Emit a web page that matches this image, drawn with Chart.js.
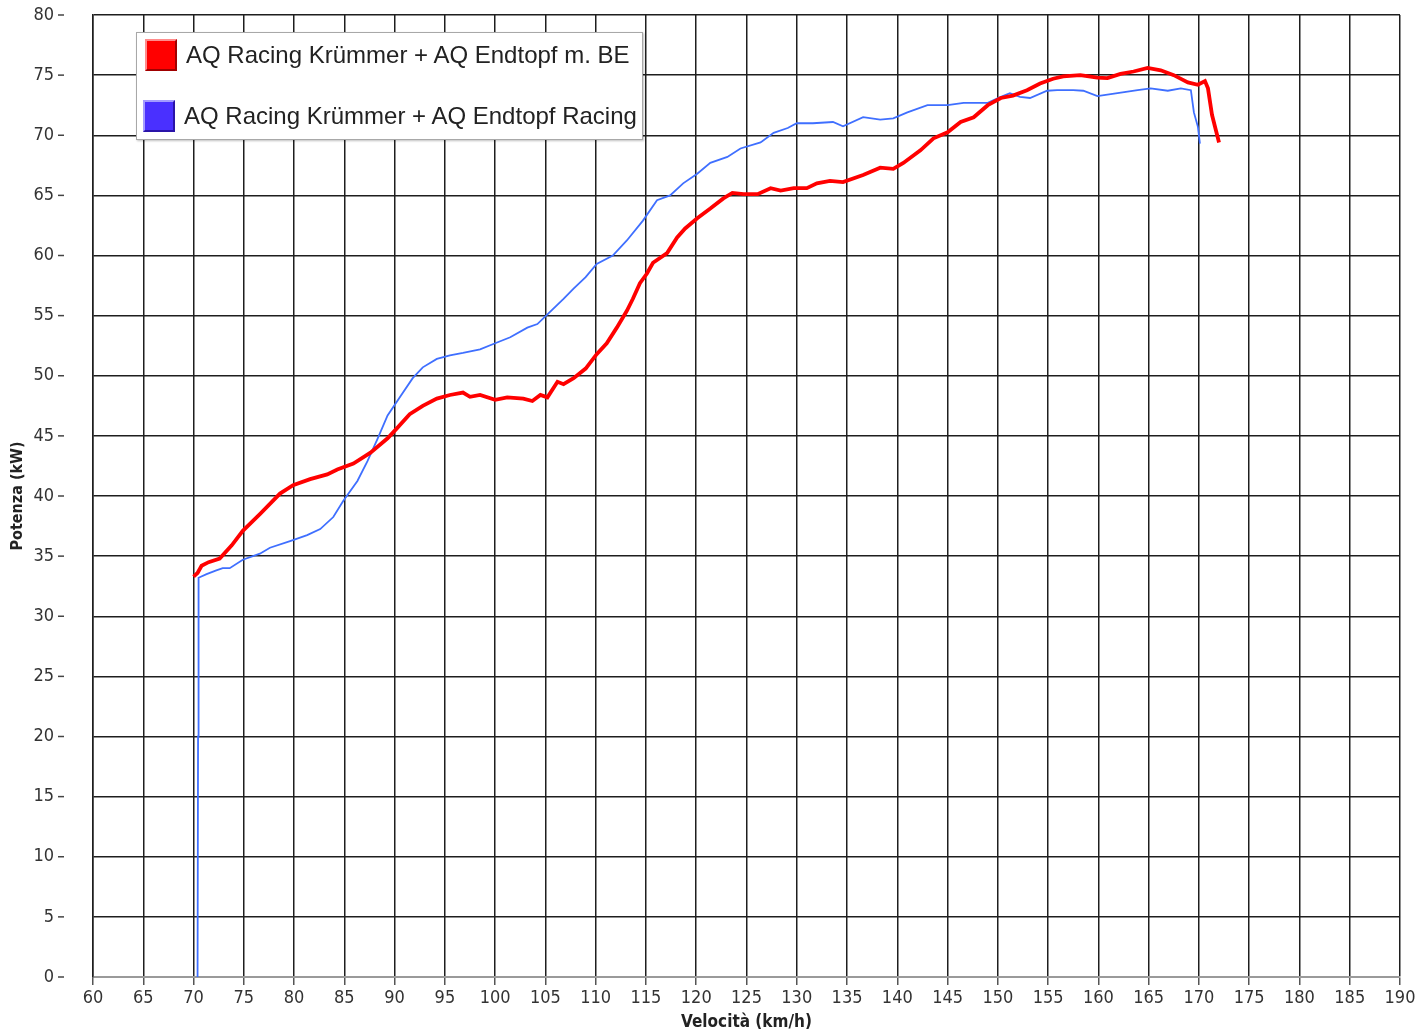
<!DOCTYPE html>
<html>
<head>
<meta charset="utf-8">
<script src="https://cdn.jsdelivr.net/npm/chart.js@4.4.1/dist/chart.umd.min.js"></script>
<style>
  body { margin: 0; background: #fff; }
  #wrap { position: relative; width: 1426px; height: 1034px; }
  #legend {
    position: absolute; left: 136px; top: 32px; width: 505px; height: 106px;
    background: #fff; border: 1px solid #a8a8a8; box-shadow: 1px 1px 2px rgba(0,0,0,0.25);
    font-family: "Liberation Sans", Arial, sans-serif; font-size: 24px; color: #222;
  }
  #legend .item { position: absolute; left: 8px; height: 32px; display: flex; align-items: center; white-space: nowrap; }
  #legend .sw { width: 28px; height: 28px; border: 2px solid; margin-right: 9px; box-sizing: content-box; }
</style>
</head>
<body>
<div id="wrap">
  <canvas id="chart" width="1426" height="1034"></canvas>
  <div id="legend"></div>
</div>
<script>
const labelRed = "AQ Racing Krümmer + AQ Endtopf m. BE";
const labelBlue = "AQ Racing Krümmer + AQ Endtopf Racing";

const redSpeed = [70.0, 70.4, 70.8, 71.5, 72.6, 73.8, 74.9, 76.6, 78.6, 79.9, 81.6, 83.3, 84.3, 85.9, 87.6, 89.3, 90.2, 91.5, 92.8, 94.2,
  95.5, 96.8, 97.5, 98.5, 100.0, 101.2, 102.8, 103.7, 104.5, 105.2, 106.2, 106.8, 107.8, 109.0, 110.1, 111.1, 112.1, 113.1, 113.7, 114.4,
  115.1, 115.7, 117.1, 118.1, 118.9, 120.1, 121.4, 122.7, 123.6, 124.7, 126.1, 127.4, 128.4, 129.7, 131.0, 132.0, 133.3, 134.6, 136.6, 138.3,
  139.6, 140.6, 142.3, 143.6, 145.0, 146.3, 147.6, 149.0, 150.3, 151.5, 152.9, 154.2, 155.5, 156.5, 158.2, 159.9, 160.9, 162.2, 163.5, 164.9,
  166.2, 167.5, 168.9, 169.9, 170.6, 170.9, 171.3, 171.6, 172.0];
const redPower = [33.3, 33.6, 34.2, 34.5, 34.8, 35.9, 37.1, 38.5, 40.2, 40.9, 41.4, 41.8, 42.2, 42.7, 43.6, 44.8, 45.6, 46.8, 47.5, 48.1,
  48.4, 48.6, 48.25, 48.4, 48.0, 48.2, 48.1, 47.9, 48.4, 48.2, 49.5, 49.3, 49.8, 50.6, 51.8, 52.7, 54.0, 55.4, 56.4, 57.7,
  58.5, 59.4, 60.2, 61.5, 62.25, 63.1, 63.9, 64.75, 65.2, 65.1, 65.1, 65.6, 65.4, 65.6, 65.6, 66.0, 66.2, 66.1, 66.7, 67.3,
  67.2, 67.7, 68.75, 69.75, 70.25, 71.1, 71.5, 72.5, 73.1, 73.3, 73.75, 74.3, 74.7, 74.9, 75.0, 74.8, 74.75, 75.1, 75.3, 75.6,
  75.4, 75.0, 74.4, 74.2, 74.5, 73.9, 71.7, 70.7, 69.4];

const blueSpeed = [70.4, 70.45, 70.5, 71.3, 72.2, 72.9, 73.6, 74.9, 76.6, 77.6, 79.6, 81.3, 82.6, 83.9, 84.9, 86.3, 87.3, 88.3, 89.3, 90.5,
  91.8, 92.8, 94.2, 95.5, 96.8, 98.5, 100.0, 101.5, 103.2, 104.2, 105.2, 106.8, 107.8, 109.0, 110.1, 111.7, 113.1, 114.7, 116.1, 117.4,
  118.7, 120.1, 121.4, 123.1, 124.4, 126.4, 127.7, 129.1, 130.0, 131.6, 133.6, 134.6, 136.6, 138.3, 139.6, 141.0, 143.0, 145.0, 146.6, 149.0,
  150.3, 151.2, 152.2, 153.2, 154.9, 155.9, 157.5, 158.5, 159.9, 161.9, 163.9, 165.2, 166.9, 168.2, 169.2, 169.5, 169.9, 170.1];
const bluePower = [0, 20, 33.2, 33.5, 33.8, 34.0, 34.0, 34.7, 35.2, 35.7, 36.25, 36.75, 37.25, 38.25, 39.6, 41.25, 42.9, 44.75, 46.7, 48.2,
  49.8, 50.7, 51.4, 51.7, 51.9, 52.2, 52.7, 53.2, 54.0, 54.3, 55.1, 56.4, 57.25, 58.2, 59.3, 60.0, 61.25, 62.9, 64.6, 65.0,
  66.0, 66.8, 67.7, 68.2, 68.9, 69.4, 70.2, 70.6, 71.0, 71.0, 71.1, 70.75, 71.5, 71.3, 71.4, 71.9, 72.5, 72.5, 72.7, 72.7,
  73.2, 73.5, 73.2, 73.1, 73.7, 73.75, 73.75, 73.7, 73.25, 73.5, 73.75, 73.9, 73.7, 73.9, 73.75, 71.9, 70.7, 69.3];

const xMin = 60, xMax = 190, yMin = 0, yMax = 80, step = 5;

const toPoints = (xs, ys) => xs.map((x, i) => ({ x: x, y: ys[i] }));
const narrow = '"Liberation Sans Narrow", "DejaVu Sans Condensed", Arial, sans-serif';

// small dashes next to the y tick labels
const yDashes = {
  id: "yDashes",
  afterDraw(chart) {
    const ctx = chart.ctx;
    const y = chart.scales.y;
    ctx.save();
    ctx.strokeStyle = "#444";
    ctx.lineWidth = 1.5;
    y.ticks.forEach((t) => {
      const py = y.getPixelForValue(t.value);
      ctx.beginPath();
      ctx.moveTo(chart.chartArea.left - 35, py);
      ctx.lineTo(chart.chartArea.left - 29, py);
      ctx.stroke();
    });
    ctx.restore();
  },
};

const chart = new Chart(document.getElementById("chart").getContext("2d"), {
  type: "line",
  data: {
    datasets: [
      {
        label: labelRed,
        data: toPoints(redSpeed, redPower),
        borderColor: "#ff0000",
        borderWidth: 3.8,
        swatch: "#ff0000",
        swatchLight: "#ff8c8c",
        swatchDark: "#a00000",
      },
      {
        label: labelBlue,
        data: toPoints(blueSpeed, bluePower),
        borderColor: "#3f6fff",
        borderWidth: 1.8,
        swatch: "#4a30ff",
        swatchLight: "#a49cff",
        swatchDark: "#2a14a8",
      },
    ],
  },
  options: {
    responsive: false,
    devicePixelRatio: 1,
    animation: false,
    elements: { point: { radius: 0 }, line: { tension: 0 } },
    layout: { padding: { top: 15, right: 26, left: 0, bottom: 0 } },
    plugins: { legend: { display: false }, tooltip: { enabled: false } },
    scales: {
      x: {
        type: "linear",
        min: xMin,
        max: xMax,
        afterFit: (s) => { s.height = 57; },
        grid: { color: "#1e1e1e", lineWidth: 1.5, drawTicks: true, tickLength: 8, tickColor: "#555" },
        border: { color: "#9a9a9a", width: 2 },
        ticks: { stepSize: step, padding: 3, color: "#333", font: { family: narrow, size: 18 }, maxRotation: 0 },
        title: { display: true, text: "Velocità (km/h)", color: "#222", font: { family: narrow, size: 17, weight: "bold" }, padding: { top: 0, bottom: 1 } },
      },
      y: {
        min: yMin,
        max: yMax,
        afterFit: (s) => { s.width = 93; },
        // invisible tick length pushes the labels away from the plot box
        grid: { color: "#1e1e1e", lineWidth: 1.5, drawTicks: true, tickLength: 35, tickColor: "rgba(0,0,0,0)" },
        border: { color: "#1e1e1e", width: 1.5 },
        ticks: { stepSize: step, padding: 4, color: "#333", font: { family: narrow, size: 18 } },
        title: { display: true, text: "Potenza (kW)", color: "#222", font: { family: narrow, size: 16, weight: "bold" }, padding: { top: 8, bottom: 0 } },
      },
    },
  },
  plugins: [yDashes],
});

// html legend built from the datasets
const legend = document.getElementById("legend");
chart.data.datasets.forEach((ds, i) => {
  const item = document.createElement("div");
  item.className = "item";
  item.style.top = (i === 0 ? 6 : 67) + "px";
  if (i === 1) item.style.left = "6px";
  const sw = document.createElement("span");
  sw.className = "sw";
  sw.style.background = ds.swatch;
  sw.style.borderColor = `${ds.swatchLight} ${ds.swatchDark} ${ds.swatchDark} ${ds.swatchLight}`;
  const txt = document.createElement("span");
  txt.textContent = ds.label;
  item.appendChild(sw);
  item.appendChild(txt);
  legend.appendChild(item);
});
</script>
</body>
</html>
